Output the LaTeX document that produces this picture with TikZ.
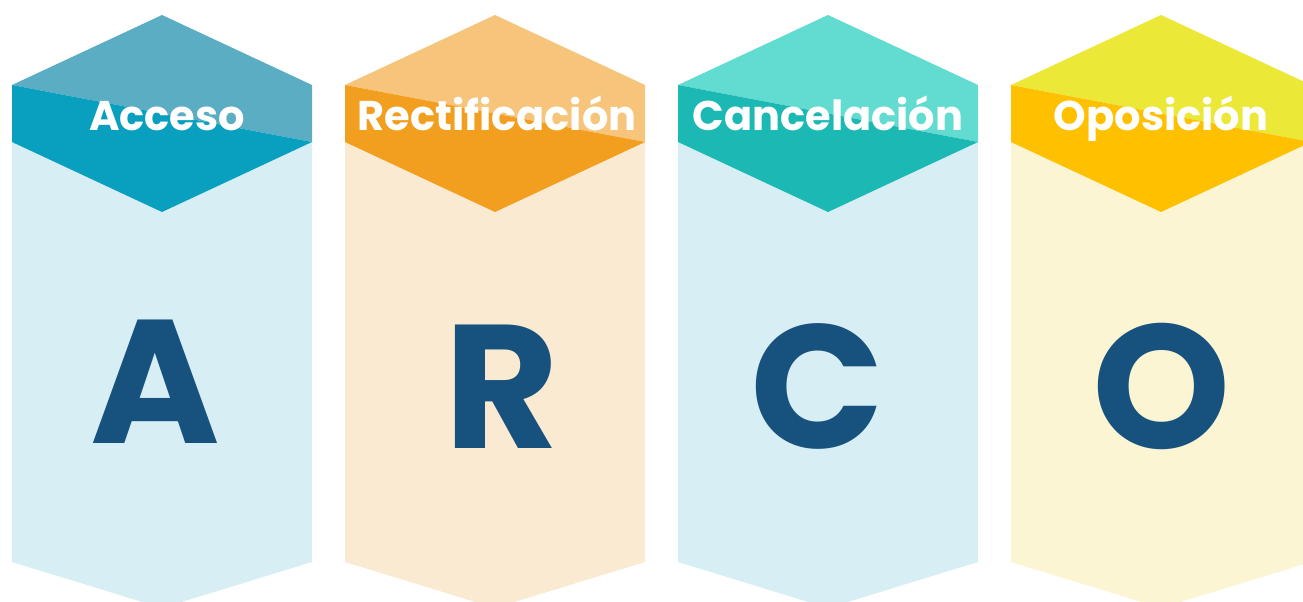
\documentclass[tikz,border=0pt]{standalone}
\usepackage{fontspec}
\newfontfamily\pop{Poppins}
\definecolor{aL}{HTML}{5BADC4}\definecolor{aD}{HTML}{08A0BE}\definecolor{aP}{HTML}{D8EEF5}
\definecolor{rL}{HTML}{F6C47A}\definecolor{rD}{HTML}{F29F1F}\definecolor{rP}{HTML}{FBEAD2}
\definecolor{cL}{HTML}{62DBD0}\definecolor{cD}{HTML}{1CB8B4}\definecolor{cP}{HTML}{D8EEF5}
\definecolor{oL}{HTML}{EBE838}\definecolor{oD}{HTML}{FFC000}\definecolor{oP}{HTML}{FBF5D3}
\definecolor{navy}{HTML}{17527E}
\tikzset{
  lbl/.style={text=white,font=\pop\bfseries\fontsize{41.5}{41.5}\selectfont,anchor=base,inner sep=0pt},
  big/.style={text=navy,font=\pop\bfseries\fontsize{176}{176}\selectfont,anchor=base,inner sep=0pt}
}
\newcommand{\colm}[4]{%
  % #1 center x, #2 light, #3 dark, #4 pale
  \begin{scope}[shift={(#1,0)}]
  \fill[#4] (-150,-142) -- (150,-142) -- (150,-562) -- (0,-608) -- (-150,-562) -- cycle;
  \fill[#2] (0,-15) -- (150,-85) -- (150,-142) -- (-150,-85) -- cycle;
  \fill[#3] (-150,-85) -- (150,-142) -- (0,-212) -- (-150,-142) -- cycle;
  \end{scope}}
\begin{document}
\begin{tikzpicture}[x=1pt,y=1pt]
\useasboundingbox (0,0) rectangle (1303,-602);
\clip (0,0) rectangle (1303,-602);
\colm{162}{aL}{aD}{aP}
\colm{495}{rL}{rD}{rP}
\colm{828}{cL}{cD}{cP}
\colm{1161}{oL}{oD}{oP}
\node[lbl] (la) at (167,-130) {Acceso};
\node[lbl] (lr) at (497,-130) {Rectificación};
\node[lbl] (lc) at (828,-130) {Cancelación};
\node[lbl] (lo) at (1161,-130) {Oposición};
\node[big] (ba) at (155,-443) {A};
\node[big] (br) at (502,-448) {R};
\node[big] (bc) at (818,-448) {C};
\node[big] (bo) at (1162,-448) {O};
\end{tikzpicture}
\end{document}
